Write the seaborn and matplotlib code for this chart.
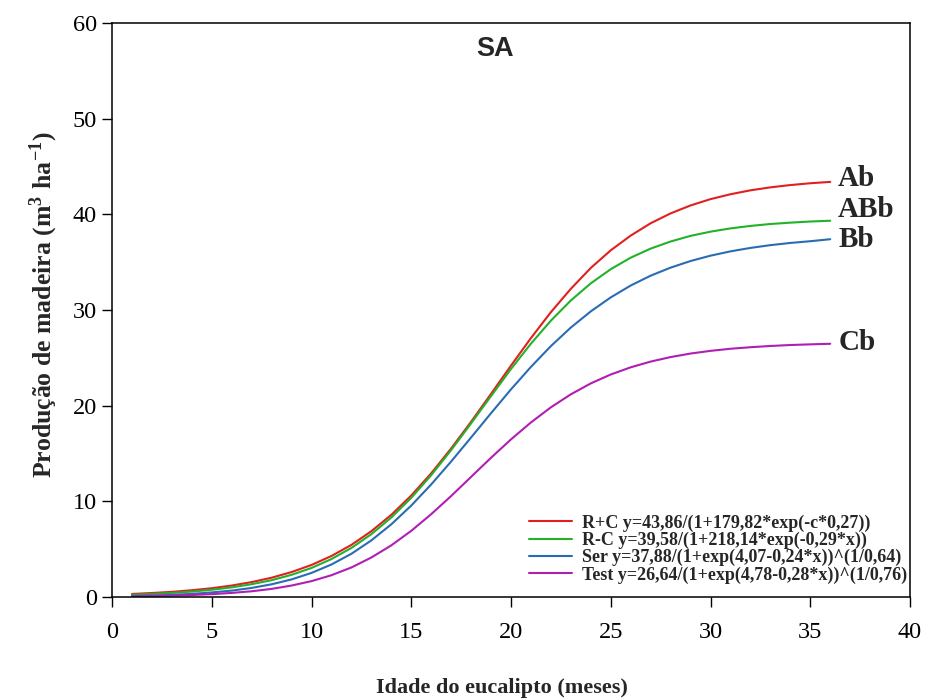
import numpy as np
import pandas as pd
import matplotlib
matplotlib.use("Agg")
import matplotlib.pyplot as plt
import seaborn as sns

# Age of the eucalyptus stand (months)
months = list(range(1, 37))

# Wood production (m3 ha-1) per treatment
rc_plus = [0.32, 0.42, 0.54, 0.71, 0.92, 1.20, 1.56, 2.02, 2.61, 3.35,
           4.29, 5.45, 6.88, 8.59, 10.61, 12.93, 15.53, 18.32, 21.24, 24.19,
           27.07, 29.78, 32.22, 34.40, 36.24, 37.78, 39.07, 40.10, 40.93, 41.59,
           42.10, 42.51, 42.82, 43.06, 43.25, 43.39]
rc_minus = [0.24, 0.32, 0.43, 0.57, 0.76, 1.01, 1.34, 1.76, 2.32, 3.04,
            3.97, 5.13, 6.57, 8.31, 10.37, 12.74, 15.36, 18.16, 21.01, 23.84,
            26.49, 28.89, 31.00, 32.79, 34.27, 35.47, 36.42, 37.16, 37.75, 38.19,
            38.53, 38.79, 38.99, 39.13, 39.25, 39.33]
ser = [0.11, 0.16, 0.23, 0.33, 0.48, 0.67, 0.95, 1.33, 1.84, 2.52,
       3.40, 4.52, 5.92, 7.60, 9.56, 11.77, 14.17, 16.68, 19.22, 21.71,
       24.06, 26.23, 28.17, 29.86, 31.32, 32.56, 33.59, 34.43, 35.12, 35.68,
       36.13, 36.49, 36.78, 37.01, 37.19, 37.40]
test = [0.07, 0.10, 0.15, 0.21, 0.30, 0.43, 0.60, 0.85, 1.20, 1.66,
        2.28, 3.09, 4.13, 5.40, 6.92, 8.66, 10.56, 12.56, 14.56, 16.48,
        18.25, 19.83, 21.19, 22.33, 23.26, 24.01, 24.61, 25.08, 25.45, 25.73,
        25.95, 26.11, 26.24, 26.34, 26.41, 26.47]

series_names = [
    "R+C y=43,86/(1+179,82*exp(-c*0,27))",
    "R-C y=39,58/(1+218,14*exp(-0,29*x))",
    "Ser y=37,88/(1+exp(4,07-0,24*x))^(1/0,64)",
    "Test y=26,64/(1+exp(4,78-0,28*x))^(1/0,76)",
]
end_letters = ["Ab", "ABb", "Bb", "Cb"]
colors = ["#e21f1f", "#22b22a", "#2a6cb4", "#b01eb4"]

x_ticks = [0, 5, 10, 15, 20, 25, 30, 35, 40]
y_ticks = [0, 10, 20, 30, 40, 50, 60]

frames = []
for name, vals in zip(series_names, [rc_plus, rc_minus, ser, test]):
    frames.append(pd.DataFrame({"x": months, "y": vals, "trat": name}))
df = pd.concat(frames, ignore_index=True)

sns.set_theme(style="ticks")
plt.rcParams["font.family"] = ["Liberation Serif", "DejaVu Serif"]
plt.rcParams["mathtext.fontset"] = "stix"

fig, ax = plt.subplots(figsize=(9.25, 6.99), dpi=100)
fig.subplots_adjust(left=0.1211, right=0.9838, bottom=0.1459, top=0.9671)

sns.lineplot(data=df, x="x", y="y", hue="trat", hue_order=series_names,
             palette=colors, linewidth=1.5, ax=ax)
for ln in ax.get_lines():
    ln.set_solid_joinstyle("round")

ax.set_xlim(0, 40)
ax.set_ylim(0, 60)
ax.set_xticks(x_ticks)
ax.set_yticks(y_ticks)
ax.tick_params(axis="both", direction="out", length=7, width=1.0,
               labelsize=17.5, colors="black")
ax.tick_params(axis="x", pad=11)
ax.tick_params(axis="y", pad=4)
for s in ax.spines.values():
    s.set_visible(True)
    s.set_linewidth(1.1)
    s.set_color("black")

ax.set_xlabel("Idade do eucalipto (meses)", fontsize=16, fontweight="bold")
ax.xaxis.set_label_coords(0.489, -0.141)
ax.set_ylabel(r"Produção de madeira (m$^{\mathregular{3}}$ ha$^{\mathregular{-1}}$)",
              fontsize=18.5, fontweight="bold")
ax.yaxis.set_label_coords(-0.065, 0.509)

ax.text(19.2, 57.3, "SA", ha="center", va="center", fontsize=19.5,
        fontweight="bold", family=["Liberation Sans", "DejaVu Sans"])

# Mean-separation letters at the end of each curve
nudge = [0.4, 1.2, 0.0, 0.1]
for vals, letter, dy in zip([rc_plus, rc_minus, ser, test], end_letters, nudge):
    ax.text(36.4, vals[-1] + dy, letter, ha="left", va="center",
            fontsize=21, fontweight="bold")

leg = ax.legend(loc="lower right", bbox_to_anchor=(0.9962, 0.0235), frameon=False,
                prop={"family": "Liberation Serif", "weight": "bold", "size": 13.0},
                handlelength=2.4, handletextpad=0.55, labelspacing=0.0,
                borderaxespad=0.0, borderpad=0.0)

fig.savefig("out.png", dpi=100)
